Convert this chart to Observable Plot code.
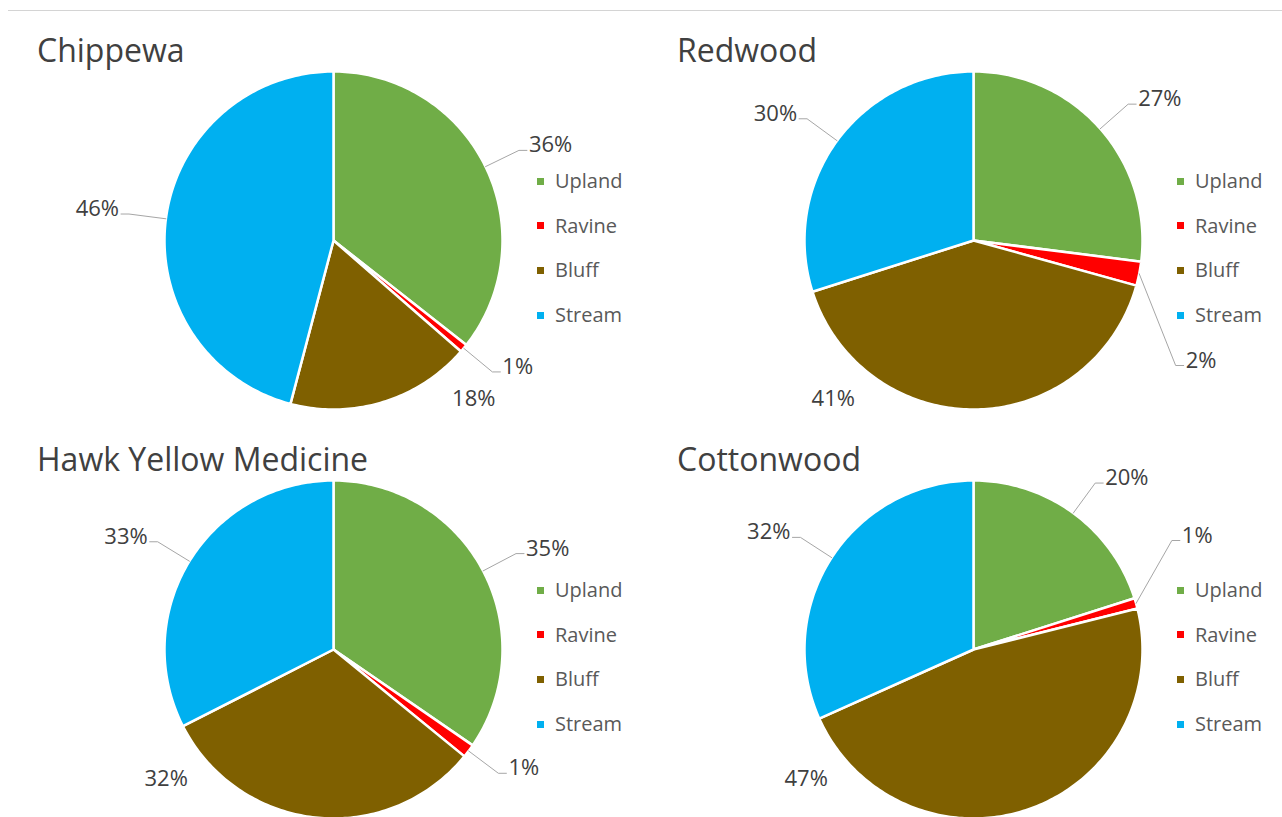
<!DOCTYPE html>
<html><head><meta charset="utf-8">
<script src="https://cdn.jsdelivr.net/npm/d3@7"></script>
<script src="https://cdn.jsdelivr.net/npm/@observablehq/plot@0.6"></script>
<style>
html,body{margin:0;padding:0;background:#fff;}
#root{position:relative;width:1282px;height:817px;overflow:hidden;font-family:"Open Sans",sans-serif;}
.rule{position:absolute;left:8px;right:0;top:10px;height:1px;background:#d4d4d4;}
.panel{position:absolute;width:640px;overflow:hidden;}
.panel svg{position:absolute;left:0;top:0;}
.title{position:absolute;left:37px;font-size:32px;line-height:32px;color:#404040;white-space:nowrap;}
.legend{position:absolute;left:537px;width:100px;}
.legend .item{position:absolute;left:0;display:flex;align-items:center;font-size:20px;color:#595959;white-space:nowrap;height:24px;line-height:24px;}
.legend .sw{width:7px;height:7px;margin-right:11px;flex:none;}
</style></head><body><div id="root"><div class="rule"></div></div>
<script>
// ---- data ----
const categories = ["Upland", "Ravine", "Bluff", "Stream"];
const colors = ["#70AD47", "#FF0000", "#7F6000", "#00B0F0"];
const chartNames = ["Chippewa", "Redwood", "Hawk Yellow Medicine", "Cottonwood"];
const chippewa = [35.6, 0.8, 17.7, 45.9];
const redwood = [27.0, 2.3, 40.8, 29.9];
const hawkYellowMedicine = [34.6, 1.3, 31.6, 32.5];
const cottonwood = [20.1, 1.0, 47.2, 31.7];
const seriesByChart = [chippewa, redwood, hawkYellowMedicine, cottonwood];

// ---- layout ----
const R = 169, PW = 640, CX = 333;
const layout = [
  {left: 0, top: 0, height: 420, cy: 240, floor: 398},
  {left: 640, top: 0, height: 420, cy: 240, floor: 398},
  {left: 0, top: 420, height: 397, cy: 229, floor: 358},
  {left: 640, top: 420, height: 397, cy: 229, floor: 358}
];
const LABEL_SIZE = 22;

function pt(a, k) { const r = a * Math.PI / 180; return [k * Math.sin(r), k * Math.cos(r)]; }

const root = document.getElementById("root");

seriesByChart.forEach((values, ci) => {
  const L = layout[ci];
  const total = d3.sum(values);
  let acc = 0;
  const slices = values.map((v, i) => {
    const a0 = acc / total * 360; acc += v; const a1 = acc / total * 360;
    return {cat: categories[i], v, a0, a1, mid: (a0 + a1) / 2};
  });
  // slice outlines
  const slicePts = [];
  for (const s of slices) {
    slicePts.push({cat: s.cat, x: 0, y: 0});
    const n = Math.max(2, Math.ceil(s.a1 - s.a0));
    for (let j = 0; j <= n; j++) {
      const [x, y] = pt(s.a0 + (s.a1 - s.a0) * j / n, 1);
      slicePts.push({cat: s.cat, x, y});
    }
    slicePts.push({cat: s.cat, x: 0, y: 0});
  }
  // labels
  const yMin = -(L.floor - L.cy) / R;
  const legX = (530 - CX) / R, legTop = 74 / R, legBot = -90 / R;
  const labels = [], leaders = [];
  slices.forEach((s, i) => {
    const text = Math.round(s.v) + "%";
    const w = 0.6 * LABEL_SIZE * text.length / R;
    let [x, y] = pt(s.mid, 1.22);
    if (y < yMin) {
      const k = 1.25;
      const t = Math.acos(Math.max(-1, yMin / k)) * 180 / Math.PI;
      const cw = 360 - t, ccw = t;
      let a = cw;
      if (!(cw >= s.a0 && cw <= s.a1) && (ccw >= s.a0 && ccw <= s.a1)) a = ccw;
      const [px] = pt(a, k);
      labels.push({x: px, y: yMin, text, anchor: "middle"});
      return;
    }
    const right = Math.sin(s.mid * Math.PI / 180) >= 0;
    if (right && x + 12 / R + w > legX && y < legTop + 14 / R && y > legBot - 14 / R) {
      y = (legTop - y < y - legBot) ? (59 + 50) / R : -(75 + 50) / R;
    }
    const [ex, ey] = pt(s.mid, 1);
    const hx = x + (right ? 8 : -8) / R;
    leaders.push({id: i, x: ex, y: ey}, {id: i, x, y}, {id: i, x: hx, y});
    labels.push({x: hx, y, text, anchor: right ? "start" : "end"});
  });

  const H = L.height;
  const plot = Plot.plot({
    width: PW, height: H, margin: 0,
    x: {domain: [-CX / R, (PW - CX) / R], axis: null},
    y: {domain: [-(H - L.cy) / R, L.cy / R], axis: null},
    color: {domain: categories, range: colors},
    style: {fontFamily: '"Open Sans", sans-serif', background: "transparent"},
    marks: [
      Plot.line(slicePts, {x: "x", y: "y", z: "cat", fill: "cat", stroke: "white", strokeWidth: 2.5, strokeLinejoin: "round"}),
      Plot.line(leaders, {x: "x", y: "y", z: "id", stroke: "#a6a6a6", strokeWidth: 1}),
      Plot.text(labels.filter(d => d.anchor === "start"), {x: "x", y: "y", text: "text", textAnchor: "start", dx: 2, dy: -5, fontSize: LABEL_SIZE, fill: "#404040"}),
      Plot.text(labels.filter(d => d.anchor === "end"), {x: "x", y: "y", text: "text", textAnchor: "end", dx: -2, dy: -5, fontSize: LABEL_SIZE, fill: "#404040"}),
      Plot.text(labels.filter(d => d.anchor === "middle"), {x: "x", y: "y", text: "text", textAnchor: "middle", fontSize: LABEL_SIZE, fill: "#404040"})
    ]
  });

  const panel = document.createElement("div");
  panel.className = "panel";
  panel.style.left = L.left + "px";
  panel.style.top = L.top + "px";
  panel.style.height = H + "px";
  panel.appendChild(plot);

  const title = document.createElement("div");
  title.className = "title";
  title.style.top = (L.cy - 206) + "px";
  title.textContent = chartNames[ci];
  panel.appendChild(title);

  const legend = document.createElement("div");
  legend.className = "legend";
  legend.style.top = "0px";
  categories.forEach((c, i) => {
    const item = document.createElement("div");
    item.className = "item";
    item.style.top = (L.cy - 59 + i * 44.7 - 12) + "px";
    const sw = document.createElement("span");
    sw.className = "sw";
    sw.style.background = colors[i];
    item.appendChild(sw);
    item.appendChild(document.createTextNode(c));
    legend.appendChild(item);
  });
  panel.appendChild(legend);
  root.appendChild(panel);
});
</script>
</body></html>
